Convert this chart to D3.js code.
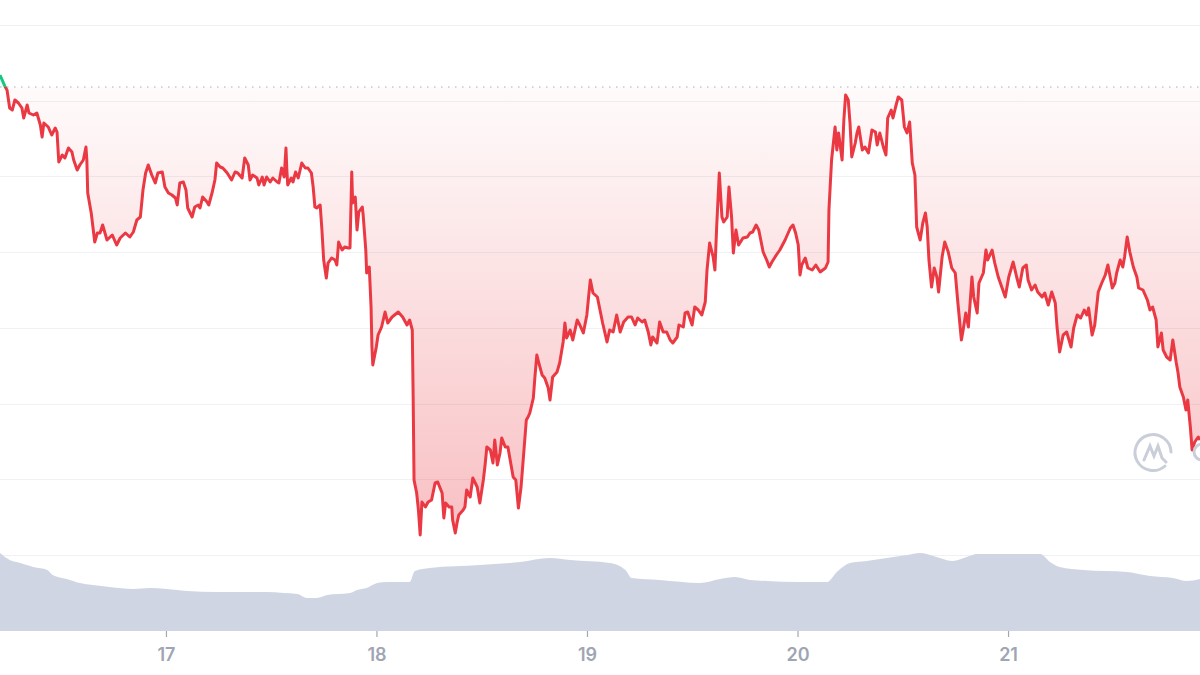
<!DOCTYPE html>
<html>
<head>
<meta charset="utf-8">
<script src="https://cdn.jsdelivr.net/npm/d3@7"></script>
<style>
  html, body { margin: 0; padding: 0; background: #ffffff; }
  svg { display: block; }
  .xaxis text { font-family: Inter, "Noto Sans", sans-serif; font-size: 18px; font-weight: 600; fill: #a0a5b3; }
</style>
</head>
<body>
<svg id="chart" width="1200" height="675"></svg>
<script>
// ---------- data ----------
// hours since window start (16 Mar, 05:05)
const priceHours = [0,0.6,0.8,1.1,1.4,1.7,2.1,2.5,2.7,3.1,3.3,3.8,4.2,4.6,4.8,5.0,5.5,5.9,6.3,6.5,6.7,7.1,7.4,7.8,8.2,8.4,8.8,9.1,9.5,9.8,9.9,10.0,10.4,10.8,11.1,11.4,11.7,12.2,12.8,13.3,13.7,14.3,14.8,15.2,15.6,16.0,16.3,16.6,16.9,17.3,17.7,18.0,18.5,18.8,19.2,19.6,20.0,20.2,20.5,20.9,21.2,21.4,21.9,22.2,22.6,22.8,23.1,23.6,23.8,24.2,24.5,24.7,25.1,25.4,25.9,26.4,26.8,27.1,27.6,27.9,28.3,28.5,28.8,29.3,29.5,29.9,30.1,30.4,30.8,31.1,31.6,31.8,32.1,32.4,32.6,32.7,32.8,33.2,33.4,33.7,34.0,34.4,34.8,35.1,35.5,35.7,35.9,36.1,36.5,36.7,36.9,37.2,37.4,37.8,38.2,38.4,38.6,39.0,39.3,39.7,39.9,40.1,40.2,40.5,40.7,40.9,41.3,41.4,41.7,41.8,42.1,42.3,42.4,42.5,42.9,43.1,43.5,43.9,44.2,44.7,45.4,45.9,46.4,46.7,47.0,47.1,47.2,47.5,47.7,47.9,48.1,48.5,48.8,49.2,49.6,49.9,50.4,50.6,50.8,51.2,51.5,51.6,51.9,52.1,52.3,52.8,53.0,53.2,53.6,53.9,54.4,54.7,55.1,55.3,55.5,55.9,56.2,56.4,56.7,57.0,57.2,57.6,57.9,58.3,58.5,58.8,59.1,59.4,59.6,60.0,60.2,60.4,60.8,61.0,61.2,61.4,61.8,62.1,62.5,62.7,63.0,63.5,63.8,64.2,64.4,64.6,65.0,65.3,65.8,66.1,66.5,66.9,67.1,67.3,67.6,68.1,68.4,68.7,69.2,69.5,69.9,70.3,70.7,71.1,71.6,72.0,72.4,72.7,73.2,73.5,73.9,74.2,74.4,74.9,75.2,75.6,76.0,76.4,76.7,77.2,77.4,77.9,78.1,78.4,78.9,79.2,79.6,80.0,80.4,80.6,80.9,81.3,81.5,81.7,82.0,82.3,82.5,82.9,83.1,83.4,83.6,83.9,84.2,84.7,85.2,85.5,85.8,86.2,86.5,87.0,87.4,87.7,88.0,88.5,88.9,89.5,90.1,90.4,90.7,91.0,91.2,91.4,91.8,92.1,92.6,93.0,93.5,94.1,94.4,94.5,94.8,95.2,95.4,95.6,96.0,96.2,96.4,96.7,96.9,97.1,97.5,97.7,97.9,98.3,98.6,99.0,99.4,99.8,100.0,100.3,100.7,101.0,101.2,101.6,101.8,102.1,102.4,102.8,103.1,103.4,103.7,104.0,104.3,104.5,104.9,105.2,105.5,105.7,105.9,106.2,106.5,106.8,107.0,107.4,107.7,108.1,108.5,108.9,109.2,109.6,109.8,110.1,110.4,110.8,111.0,111.4,111.6,112.1,112.4,112.6,113.1,113.4,113.8,114.2,114.6,115.0,115.5,115.9,116.2,116.6,117.0,117.2,117.6,118.0,118.3,118.8,119.1,119.5,119.9,120.3,120.5,120.8,121.2,121.6,122.1,122.4,122.8,123.2,123.6,123.9,124.1,124.5,124.8,125.2,125.6,126.0,126.3,126.8,127.1,127.3,127.7,128.0,128.2,128.5,128.8,129.2,129.6,129.8,130.3,130.8,131.1,131.4,131.8,132.0,132.4,132.6,133.0,133.4,133.7,134.1,134.3,134.5,134.9,135.2,135.4,135.7,135.9,136.2,136.6,136.8];
const priceValues = [480,468,465,447,445,455,452,447,437,450,442,440,442,430,418,432,428,420,427,423,393,400,397,407,403,395,385,390,395,408,395,362,342,313,322,322,330,315,320,310,317,322,318,323,335,338,365,382,390,380,372,382,383,368,362,360,357,350,372,373,365,347,338,348,350,347,358,353,350,363,375,392,388,387,382,375,383,382,377,397,390,375,380,377,370,378,370,378,373,377,373,372,387,378,407,385,370,377,373,383,377,392,387,387,382,368,348,347,350,325,295,277,292,297,295,290,313,305,308,307,307,383,352,358,325,343,348,340,305,282,288,248,208,190,208,220,228,243,232,238,243,238,230,235,225,158,75,62,45,20,53,48,53,55,72,73,62,37,52,48,48,35,22,32,40,45,48,65,58,77,68,52,75,90,108,105,92,115,90,102,117,108,108,88,78,75,47,68,90,135,138,142,157,180,200,193,180,177,167,155,178,183,192,213,232,217,225,215,235,230,222,240,258,275,262,258,245,232,213,225,223,240,223,233,238,238,230,237,233,235,223,210,218,212,233,223,223,215,212,218,230,228,242,243,230,248,245,240,253,285,312,298,285,328,382,338,333,338,368,338,302,325,310,317,318,322,323,330,325,303,295,288,293,300,305,315,327,330,322,310,280,290,297,287,285,290,283,287,293,345,395,428,405,422,395,435,460,455,432,398,412,422,428,405,408,402,425,423,410,422,408,400,437,445,437,448,458,455,428,422,433,392,380,328,315,332,342,328,295,268,287,278,263,298,313,303,287,282,252,215,225,242,228,278,258,242,272,282,305,295,305,292,278,268,258,278,293,278,268,287,290,275,265,270,263,258,262,250,263,252,228,203,220,223,208,227,240,237,245,240,247,220,230,263,272,280,290,267,272,282,295,288,298,318,303,288,278,267,265,255,245,248,235,208,222,205,198,195,215,192,182,168,158,145,155,128,105,113,118,115];
const openValue = 468;            // reference (opening) price, dotted line
const volumeHours  = [0,1.1,2.3,3.8,5.4,6.0,7.6,9.1,10.6,12.5,15.2,17.1,19.0,21.3,24.7,30.4,32.3,33.9,35.0,36.1,37.3,39.9,40.7,41.8,43.0,44.1,46.7,47.3,49.0,54.7,59.3,62.7,65.0,69.5,71.3,72.0,75.2,79.8,82.1,83.8,85.5,87.4,90.9,94.3,95.4,96.9,98.8,101.1,103.4,104.9,106.4,108.6,110.2,111.4,118.6,119.7,120.8,123.5,128.5,131.1,133.7,135.3,136.8];
const volumeValues = [78,71,68,64,61,56,52,48,46,44,42,43,42,40,39,39,38,37,33,33,36,38,41,43,48,49,49,60,63,66,69,73,71,68,61,53,51,48,52,54,51,50,49,49,59,68,70,73,76,78,75,70,74,77,77,69,64,61,59,55,53,50,52];
const yGridValues = [0, 76, 151, 227, 303, 379, 454, 530];
const xTickDays = [17, 18, 19, 20, 21];
const windowStart = new Date(2023, 2, 16, 5, 5);
const windowHours = 136.8;

// ---------- setup ----------
const W = 1200, H = 675;
const svg = d3.select("#chart");
const hourMs = 3600 * 1000;
const toDate = h => new Date(windowStart.getTime() + h * hourMs);

const x = d3.scaleTime().domain([windowStart, toDate(windowHours)]).range([0, W]);
const y = d3.scaleLinear().domain([0, 530]).range([555, 25]);
const yVol = d3.scaleLinear().domain([0, 78]).range([631, 553]);

const prices = priceHours.map((h, i) => ({ t: toDate(h), v: priceValues[i] }));
const vols = volumeHours.map((h, i) => ({ t: toDate(h), v: volumeValues[i] }));

const RED = "#ea3943", GREEN = "#16c784";
const baseY = y(openValue);

const defs = svg.append("defs");
const gradR = defs.append("linearGradient").attr("id", "gradRed")
  .attr("gradientUnits", "userSpaceOnUse").attr("x1", 0).attr("x2", 0)
  .attr("y1", baseY).attr("y2", y(20));
gradR.append("stop").attr("offset", 0).attr("stop-color", RED).attr("stop-opacity", 0.02);
gradR.append("stop").attr("offset", 1).attr("stop-color", RED).attr("stop-opacity", 0.32);
const gradG = defs.append("linearGradient").attr("id", "gradGreen")
  .attr("gradientUnits", "userSpaceOnUse").attr("x1", 0).attr("x2", 0)
  .attr("y1", baseY).attr("y2", y(520));
gradG.append("stop").attr("offset", 0).attr("stop-color", GREEN).attr("stop-opacity", 0.05);
gradG.append("stop").attr("offset", 1).attr("stop-color", GREEN).attr("stop-opacity", 0.25);

defs.append("clipPath").attr("id", "below").append("rect")
  .attr("x", 0).attr("y", baseY).attr("width", W).attr("height", H - baseY);
defs.append("clipPath").attr("id", "above").append("rect")
  .attr("x", 0).attr("y", 0).attr("width", W).attr("height", baseY);

// gridlines
svg.append("g").selectAll("line").data(yGridValues).join("line")
  .attr("x1", 0).attr("x2", W)
  .attr("y1", d => Math.round(y(d)) + 0.5).attr("y2", d => Math.round(y(d)) + 0.5)
  .attr("stroke", "#eff1f4").attr("stroke-width", 1);

// volume area
const volArea = d3.area().x(d => x(d.t)).y0(yVol(0)).y1(d => yVol(d.v)).curve(d3.curveMonotoneX);
svg.append("path").datum(vols).attr("d", volArea).attr("fill", "#cfd5e2");

// price fill
const area = d3.area().x(d => x(d.t)).y0(baseY).y1(d => y(d.v));
svg.append("path").datum(prices).attr("d", area).attr("fill", "url(#gradRed)").attr("clip-path", "url(#below)");
svg.append("path").datum(prices).attr("d", area).attr("fill", "url(#gradGreen)").attr("clip-path", "url(#above)");

// baseline (dotted)
svg.append("line").attr("x1", 0).attr("x2", W).attr("y1", baseY).attr("y2", baseY)
  .attr("stroke", "#a7afbf").attr("stroke-width", 1.2).attr("stroke-dasharray", "1.5,5.5");

// price line
const line = d3.line().x(d => x(d.t)).y(d => y(d.v));
svg.append("path").datum(prices).attr("d", line).attr("fill", "none")
  .attr("stroke", RED).attr("stroke-width", 3).attr("stroke-linejoin", "round").attr("clip-path", "url(#below)");
svg.append("path").datum(prices).attr("d", line).attr("fill", "none")
  .attr("stroke", GREEN).attr("stroke-width", 3).attr("stroke-linejoin", "round").attr("clip-path", "url(#above)");

// x axis
const xAxis = d3.axisBottom(x)
  .tickValues(xTickDays.map(d => new Date(2023, 2, d)))
  .tickFormat(d3.timeFormat("%-d"))
  .tickSize(6).tickPadding(11);
const gx = svg.append("g").attr("class", "xaxis").attr("transform", `translate(0,${yVol(0)})`).call(xAxis);
gx.select(".domain").remove();
gx.selectAll(".tick line").attr("stroke", "#a2a7b5").attr("stroke-width", 1.2);

// watermark logo
const logo = svg.append("g").attr("transform", "translate(1153,452)")
  .attr("fill", "none").attr("stroke", "#c9ced9").attr("stroke-width", 3).attr("stroke-linecap", "round");
logo.append("path").attr("d", "M 12 14 A 18 18 0 1 1 18 0");
logo.append("path").attr("d", "M -9 8 L -3 -6 L 1 4 L 5 -6 L 9 6 L 13 10");
// end ring
svg.append("circle").attr("cx", 1202).attr("cy", 452).attr("r", 8)
  .attr("fill", "none").attr("stroke", "#c9ced9").attr("stroke-width", 3);
</script>
</body>
</html>
